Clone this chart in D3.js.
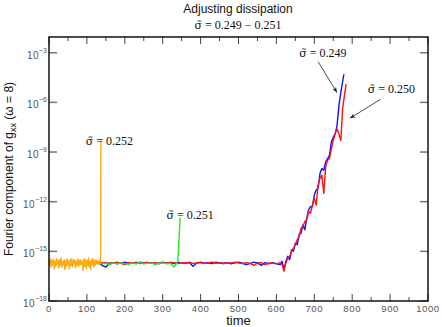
<!DOCTYPE html>
<html>
<head>
<meta charset="utf-8">
<script src="https://cdn.jsdelivr.net/npm/d3@7"></script>
<style>
  body { margin: 0; background: #fff; }
  svg text { font-family: "Liberation Sans", Arial, sans-serif; }
  .serif { font-family: "Liberation Serif", "Times New Roman", serif !important; }
</style>
</head>
<body>
<div id="chart"></div>
<script>
// values are log10 of the Fourier component

// sigma = 0.249 (blue)
const blueTime = [0,10,20,30,40,50,60,70,80,90,100,110,120,130,140,150,160,170,180,190,
  200,210,220,230,240,250,260,270,280,290,300,310,320,330,340,350,360,370,380,390,
  400,410,420,430,440,450,460,470,480,490,500,510,520,530,540,550,560,570,580,590,600,
  610,615,620,625,630,635,640,645,650,655,660,665,670,675,680,685,690,695,700,705,710,
  715,720,725,730,735,740,745,750,755,760,765,770,778];
const blueExp = [-15.68,-15.72,-15.65,-15.75,-15.70,-15.66,-15.74,-15.69,-15.72,-15.65,
  -15.70,-15.75,-15.68,-15.66,-15.85,-15.95,-15.72,-15.68,-15.75,-15.70,
  -15.66,-15.72,-15.69,-15.74,-15.65,-15.70,-15.72,-15.68,-15.75,-15.70,
  -15.66,-15.72,-15.69,-15.74,-15.65,-15.70,-15.72,-15.68,-15.90,-15.70,
  -15.66,-15.72,-15.69,-15.74,-15.65,-15.70,-15.72,-15.68,-15.75,-15.70,
  -15.66,-15.72,-15.80,-15.74,-15.65,-15.70,-15.85,-15.68,-15.75,-15.70,-15.75,
  -15.80,-15.60,-16.10,-15.60,-15.30,-15.50,-14.90,-15.00,-14.50,-14.60,-14.00,-13.90,
  -13.40,-13.70,-13.00,-12.50,-12.30,-12.30,-11.60,-11.30,-11.20,-10.30,-10.00,-10.10,
  -9.60,-9.40,-9.20,-8.40,-8.10,-7.90,-7.40,-6.20,-5.40,-4.30];

// sigma = 0.250 (red)
const redTime = [0,10,20,30,40,50,60,70,80,90,100,110,120,130,140,150,160,170,180,190,
  200,210,220,230,240,250,260,270,280,290,300,310,320,330,340,350,360,370,380,390,
  400,410,420,430,440,450,460,470,480,490,500,510,520,530,540,550,560,570,580,590,600,
  610,615,620,625,630,635,640,645,650,655,660,665,670,675,680,685,690,695,700,705,710,
  715,720,725,730,735,740,745,750,755,760,765,770,775,784];
const redExp = [-15.72,-15.66,-15.74,-15.68,-15.65,-15.73,-15.70,-15.64,-15.76,-15.69,
  -15.71,-15.66,-15.74,-15.62,-15.70,-15.67,-15.75,-15.70,-15.66,-15.72,
  -15.80,-15.68,-15.72,-15.65,-15.74,-15.70,-15.66,-15.73,-15.69,-15.75,
  -15.68,-15.72,-15.66,-15.70,-15.74,-15.69,-15.71,-15.66,-15.73,-15.70,
  -15.68,-15.74,-15.70,-15.65,-15.72,-15.69,-15.75,-15.68,-15.71,-15.66,
  -15.70,-15.74,-15.68,-15.72,-15.85,-15.70,-15.68,-15.80,-15.72,-15.70,-15.74,
  -15.70,-15.80,-16.20,-15.70,-15.40,-15.30,-15.00,-14.80,-14.60,-14.30,-14.10,-13.60,
  -13.50,-13.20,-13.10,-12.60,-12.70,-12.20,-11.80,-12.20,-11.00,-10.60,-10.40,-11.50,
  -9.90,-9.50,-9.40,-8.80,-8.30,-7.90,-7.60,-7.90,-8.30,-6.30,-4.90];

// sigma = 0.251 (green)
const greenTime = [0,10,20,30,40,50,60,70,80,90,100,110,120,130,140,150,160,170,180,190,
  200,210,220,230,240,250,260,270,280,290,300,310,320,330,335,340,346];
const greenExp = [-15.70,-15.78,-15.66,-15.82,-15.72,-15.68,-15.76,-15.70,-15.80,-15.67,
  -15.74,-15.70,-15.78,-15.68,-15.75,-15.72,-15.80,-15.70,-15.76,-15.69,
  -15.74,-15.78,-15.70,-15.75,-15.68,-15.76,-15.72,-15.70,-15.78,-15.72,
  -15.70,-15.76,-15.72,-15.95,-15.78,-15.60,-12.95];

// sigma = 0.252 (orange)
const orangeTime = [0,2,4,6,8,10,12,14,16,18,20,22,24,26,28,30,32,34,36,38,40,42,44,46,48,
  50,52,54,56,58,60,62,64,66,68,70,72,74,76,78,80,82,84,86,88,90,92,94,96,98,
  100,102,104,106,108,110,112,114,116,118,120,122,124,126,128,130,132,134,136,137];
const orangeExp = [-15.60,-15.85,-15.45,-15.95,-15.55,-15.80,-15.50,-16.05,-15.60,-15.90,
  -15.45,-15.75,-15.55,-16.00,-15.50,-15.85,-15.40,-15.95,-15.65,-15.80,-15.50,-16.10,
  -15.55,-15.90,-15.45,-15.80,-15.60,-16.05,-15.50,-15.85,-15.45,-15.95,-15.55,-15.75,
  -15.50,-16.00,-15.60,-15.85,-15.45,-15.90,-15.55,-15.75,-15.50,-15.80,-15.60,-16.15,
  -15.45,-15.90,-15.50,-16.05,-15.55,-15.85,-15.40,-15.95,-15.60,-16.10,-15.50,-15.80,
  -15.45,-15.95,-15.55,-15.85,-15.50,-15.75,-15.60,-15.80,-15.55,-15.70,-15.65,-8.30];

const xTicks = [0,100,200,300,400,500,600,700,800,900,1000];
const yTickExp = [-18,-15,-12,-9,-6,-3];

const series = [
  {time: blueTime, exp: blueExp, color: "#1010ff"},
  {time: redTime, exp: redExp, color: "#ff1010"},
  {time: greenTime, exp: greenExp, color: "#22ee22"},
  {time: orangeTime, exp: orangeExp, color: "#ffaa11"}
];

// annotation labels: [sigma text, time, exponent of baseline]
const labels = [
  {text: "0.252", t: 97, e: -8.55},
  {text: "0.251", t: 310, e: -13.05},
  {text: "0.249", t: 660, e: -3.24},
  {text: "0.250", t: 841, e: -5.41}
];
const arrows = [
  {t0: 710, e0: -3.54, t1: 760, e1: -5.41},
  {t0: 875, e0: -5.81, t1: 794, e1: -6.96}
];

const W = 442, H = 327;
const margin = {top: 37, right: 14, bottom: 26, left: 49};
const width = W - margin.left - margin.right;
const height = H - margin.top - margin.bottom;

const svg = d3.select("#chart").append("svg")
  .attr("width", W).attr("height", H);

const g = svg.append("g")
  .attr("transform", `translate(${margin.left},${margin.top})`);

const x = d3.scaleLinear().domain([0, 1000]).range([0, width]);
const y = d3.scaleLog().domain([1e-18, Math.pow(10, -2.05)]).range([height, 0]);

// ticks
const xMinor = d3.range(50, 1000, 100);
g.selectAll(".xt").data(xTicks).enter().append("line")
  .attr("x1", d => x(d)).attr("x2", d => x(d))
  .attr("y1", height).attr("y2", height - 7)
  .attr("stroke", "#444").attr("stroke-width", 1);
g.selectAll(".xtt").data(xTicks).enter().append("line")
  .attr("x1", d => x(d)).attr("x2", d => x(d))
  .attr("y1", 0).attr("y2", 7)
  .attr("stroke", "#444").attr("stroke-width", 1);
g.selectAll(".xm").data(xMinor).enter().append("line")
  .attr("x1", d => x(d)).attr("x2", d => x(d))
  .attr("y1", height).attr("y2", height - 4)
  .attr("stroke", "#444").attr("stroke-width", 1);
g.selectAll(".xmt").data(xMinor).enter().append("line")
  .attr("x1", d => x(d)).attr("x2", d => x(d))
  .attr("y1", 0).attr("y2", 4)
  .attr("stroke", "#444").attr("stroke-width", 1);

g.selectAll(".yt").data(yTickExp).enter().append("line")
  .attr("x1", 0).attr("x2", 8)
  .attr("y1", d => y(Math.pow(10, d))).attr("y2", d => y(Math.pow(10, d)))
  .attr("stroke", "#777").attr("stroke-width", 1.5);
g.selectAll(".ytr").data(yTickExp).enter().append("line")
  .attr("x1", width).attr("x2", width - 8)
  .attr("y1", d => y(Math.pow(10, d))).attr("y2", d => y(Math.pow(10, d)))
  .attr("stroke", "#777").attr("stroke-width", 1.5);

// tick labels
g.selectAll(".xl").data(xTicks).enter().append("text")
  .attr("x", d => x(d)).attr("y", height + 11)
  .attr("text-anchor", "middle")
  .attr("font-size", "9.5px").attr("letter-spacing", "0.6px")
  .attr("fill", "#555")
  .text(d => d);

const yl = g.selectAll(".yl").data(yTickExp).enter().append("text")
  .attr("x", -2).attr("y", d => y(Math.pow(10, d)) + 6)
  .attr("text-anchor", "end")
  .attr("fill", "#555");
yl.append("tspan").attr("font-size", "10px").attr("letter-spacing", "0.5px").text("10");
yl.append("tspan").attr("font-size", "7px").attr("dy", -6).text(d => "\u2212" + (-d));

// lines
const line = d3.line()
  .x(d => x(d[0]))
  .y(d => y(Math.pow(10, d[1])));

series.forEach(s => {
  const pts = s.time.map((t, i) => [t, s.exp[i]]);
  g.append("path")
    .datum(pts)
    .attr("fill", "none")
    .attr("stroke", s.color)
    .attr("stroke-width", 1.4)
    .attr("stroke-linejoin", "round")
    .attr("d", line);
});

// frame
g.append("rect")
  .attr("width", width).attr("height", height)
  .attr("fill", "none").attr("stroke", "#111").attr("stroke-width", 1.5);

// annotations
svg.append("defs").append("marker")
  .attr("id", "arr").attr("viewBox", "0 0 10 10")
  .attr("refX", 10).attr("refY", 5)
  .attr("markerWidth", 7).attr("markerHeight", 7)
  .attr("orient", "auto")
  .append("path").attr("d", "M0,1 L10,5 L0,9 L3,5 Z").attr("fill", "#222");

arrows.forEach(a => {
  g.append("line")
    .attr("x1", x(a.t0)).attr("y1", y(Math.pow(10, a.e0)))
    .attr("x2", x(a.t1)).attr("y2", y(Math.pow(10, a.e1)))
    .attr("stroke", "#222").attr("stroke-width", 0.8)
    .attr("marker-end", "url(#arr)");
});

// sigma with combining tilde (DejaVu places the mark), then the rest
function sigmaText(sel, rest) {
  sel.append("tspan").style("font-family", "'DejaVu Serif'").attr("font-size", "11px")
    .text("\u03C3\u0303");
  sel.append("tspan").text(" = " + rest);
}

labels.forEach(l => {
  const t = g.append("text")
    .attr("class", "serif")
    .attr("x", x(l.t)).attr("y", y(Math.pow(10, l.e)))
    .attr("font-size", "12px").attr("fill", "#111");
  sigmaText(t, l.text);
});

// titles
svg.append("text")
  .attr("x", 238).attr("y", 13)
  .attr("text-anchor", "middle").attr("font-size", "12px").attr("fill", "#111")
  .text("Adjusting dissipation");
const sub = svg.append("text")
  .attr("class", "serif")
  .attr("x", 238).attr("y", 29)
  .attr("text-anchor", "middle").attr("font-size", "12px").attr("fill", "#111");
sigmaText(sub, "0.249 \u2212 0.251");

svg.append("text")
  .attr("x", margin.left + x(500)).attr("y", 325)
  .attr("text-anchor", "middle").attr("font-size", "13px").attr("fill", "#111")
  .text("time");

const ylab = svg.append("text")
  .attr("transform", `translate(13,${margin.top + height / 2}) rotate(-90)`)
  .attr("text-anchor", "middle").attr("font-size", "12px").attr("fill", "#111");
ylab.append("tspan").text("Fourier component of g");
ylab.append("tspan").attr("font-size", "9px").attr("dy", 3).text("xx");
ylab.append("tspan").attr("dy", -3).text("  (\u03C9 = 8)");
</script>
</body>
</html>
